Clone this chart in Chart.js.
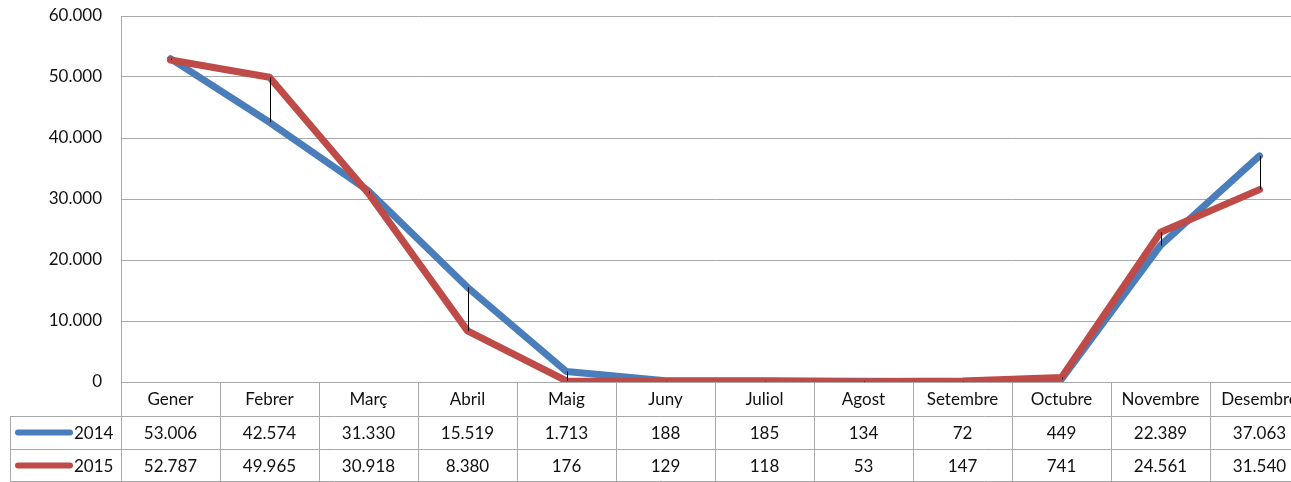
<!DOCTYPE html>
<html>
<head>
<meta charset="utf-8">
<script src="https://cdn.jsdelivr.net/npm/chart.js@4"></script>
<style>
  html, body { margin: 0; padding: 0; background: #fff; overflow: hidden; }
  #wrap { width: 1309px; height: 482px; }
</style>
</head>
<body>
<div id="wrap"><canvas id="lineChart" width="1309" height="482"></canvas></div>
<script>
var months = ['Gener', 'Febrer', 'Març', 'Abril', 'Maig', 'Juny', 'Juliol', 'Agost', 'Setembre', 'Octubre', 'Novembre', 'Desembre'];
var values2014 = [53006, 42574, 31330, 15519, 1713, 188, 185, 134, 72, 449, 22389, 37063];
var values2015 = [52787, 49965, 30918, 8380, 176, 129, 118, 53, 147, 741, 24561, 31540];
var seriesNames = ['2014', '2015'];
var seriesColors = ['#4a7ebb', '#be4b48'];

var FONT = '17px Lato';
var GRID = '#a9a9a9';
var TEXT = '#111';

function fmt(v) {
  return String(v).replace(/\B(?=(\d{3})+(?!\d))/g, '.');
}

// black drop lines between both series + the data table under the plot
var tablePlugin = {
  id: 'tablePlugin',
  afterDatasetsDraw: function(chart) {
    var ctx = chart.ctx, x = chart.scales.x, y = chart.scales.y;
    ctx.save();
    ctx.strokeStyle = '#000';
    ctx.lineWidth = 1;
    for (var i = 0; i < months.length; i++) {
      var px = Math.round(x.getPixelForValue(i)) + 0.5;
      ctx.beginPath();
      ctx.moveTo(px, y.getPixelForValue(values2014[i]));
      ctx.lineTo(px, y.getPixelForValue(values2015[i]));
      ctx.stroke();
    }
    ctx.restore();
  },
  afterDraw: function(chart) {
    var ctx = chart.ctx, x = chart.scales.x, area = chart.chartArea;
    var top = area.bottom, rowH = [34, 33, 33];
    var r1 = top + rowH[0], r2 = r1 + rowH[1], r3 = r2 + rowH[2];
    var colW = (area.right - area.left) / months.length;
    ctx.save();
    ctx.strokeStyle = GRID;
    ctx.lineWidth = 1;
    ctx.beginPath();
    for (var i = 0; i <= months.length; i++) {
      var cx = Math.round(area.left + i * colW) + 0.5;
      ctx.moveTo(cx, top);
      ctx.lineTo(cx, r3);
    }
    ctx.moveTo(10.5, r1); ctx.lineTo(10.5, r3);
    ctx.moveTo(10, r1 + 0.5); ctx.lineTo(area.right, r1 + 0.5);
    ctx.moveTo(10, r2 + 0.5); ctx.lineTo(area.right, r2 + 0.5);
    ctx.moveTo(10, r3 - 0.5); ctx.lineTo(area.right, r3 - 0.5);
    ctx.stroke();

    ctx.font = FONT;
    ctx.fillStyle = TEXT;
    ctx.textAlign = 'center';
    ctx.textBaseline = 'middle';
    var rows = [values2014, values2015];
    for (var j = 0; j < months.length; j++) {
      var mx = x.getPixelForValue(j);
      ctx.fillText(months[j], mx, top + rowH[0] / 2 + 1);
      ctx.fillText(fmt(rows[0][j]), mx, r1 + rowH[1] / 2 + 1);
      ctx.fillText(fmt(rows[1][j]), mx, r2 + rowH[2] / 2 + 1);
    }
    // legend keys
    var ys = [r1 + rowH[1] / 2, r2 + rowH[2] / 2];
    for (var k = 0; k < 2; k++) {
      ctx.strokeStyle = seriesColors[k];
      ctx.lineWidth = 6;
      ctx.lineCap = 'round';
      ctx.beginPath();
      ctx.moveTo(18, ys[k]);
      ctx.lineTo(70, ys[k]);
      ctx.stroke();
      ctx.textAlign = 'left';
      ctx.fillText(seriesNames[k], 74, ys[k] + 1);
    }
    ctx.restore();
  }
};

var ctx = document.getElementById('lineChart').getContext('2d');
var chart = new Chart(ctx, {
  type: 'line',
  data: {
    labels: months,
    datasets: [{
      label: seriesNames[0],
      data: values2014,
      borderColor: seriesColors[0],
      borderWidth: 7,
      pointRadius: 0,
      borderCapStyle: 'round',
      borderJoinStyle: 'round',
      order: 1
    }, {
      label: seriesNames[1],
      data: values2015,
      borderColor: seriesColors[1],
      borderWidth: 7,
      pointRadius: 0,
      borderCapStyle: 'round',
      borderJoinStyle: 'round',
      order: 0
    }]
  },
  options: {
    responsive: false,
    animation: false,
    layout: { padding: { top: 16, bottom: 100, left: 0, right: 0 } },
    plugins: { legend: { display: false }, tooltip: { enabled: false } },
    scales: {
      x: { display: false, offset: true },
      y: {
        min: 0,
        max: 60000,
        afterFit: function(scale) {
          scale.width = 121;
          scale.paddingTop = 0;
          scale.paddingBottom = 0;
        },
        ticks: {
          stepSize: 10000,
          padding: 19,
          color: TEXT,
          font: { family: 'Lato', size: 17 },
          callback: function(v) { return fmt(v); }
        },
        grid: { color: GRID, drawTicks: false },
        border: { color: GRID }
      }
    }
  },
  plugins: [tablePlugin]
});
</script>
</body>
</html>
